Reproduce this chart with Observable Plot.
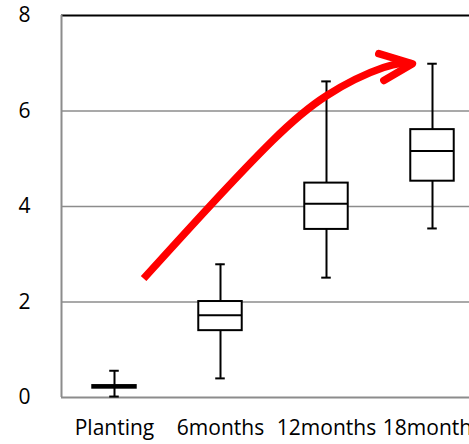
<!DOCTYPE html>
<html>
<head>
<meta charset="utf-8">
<script src="https://cdn.jsdelivr.net/npm/d3@7"></script>
<script src="https://cdn.jsdelivr.net/npm/@observablehq/plot@0.6"></script>
<style>
  html, body { margin: 0; padding: 0; background: #fff; }
</style>
</head>
<body>
<div id="chart"></div>
<script>
const categories = ["Planting", "6months", "12months", "18months"];
const whiskerLow  = [0.02, 0.40, 2.51, 3.54];
const q1          = [0.195, 1.40, 3.52, 4.53];
const median      = [0.22, 1.72, 4.06, 5.16];
const q3          = [0.25, 2.01, 4.49, 5.61];
const whiskerHigh = [0.56, 2.79, 6.62, 6.99];
const yTicks = [0, 2, 4, 6, 8];

// trend arrow annotation (data units: x = category position, y = value)
const arrowX = [1.274, 1.887, 2.491, 3.000, 3.538, 3.811];
const arrowY = [2.49, 3.98, 5.38, 6.32, 6.91, 6.99];
const headX = [3.493, 3.811, 3.541];
const headY = [7.20, 6.99, 6.64];

const boxes = categories.map((c, i) => ({
  pos: i + 1, cat: c,
  lo: whiskerLow[i], q1: q1[i], med: median[i], q3: q3[i], hi: whiskerHigh[i]
}));
const arrowPts = arrowX.map((x, i) => ({x, y: arrowY[i]}));
const headPts = headX.map((x, i) => ({x, y: headY[i]}));

const boxHalf = 0.205, capHalf = 0.045;
const font = "Open Sans";

const chart = Plot.plot({
  width: 469,
  height: 444,
  marginTop: 15,
  marginBottom: 47,
  marginLeft: 61,
  marginRight: 0,
  style: {fontFamily: font, background: "#fff", color: "#000"},
  x: {domain: [0.5, 4.5], range: [61, 485]},
  y: {domain: [0, 8], range: [397, 15]},
  marks: [
    Plot.ruleY(yTicks.filter(v => v > 0 && v < 8), {stroke: "#8c8c8c", strokeWidth: 1.5}),
    Plot.ruleY([8], {stroke: "#000", strokeWidth: 2}),
    Plot.ruleY([0], {stroke: "#8c8c8c", strokeWidth: 2}),
    Plot.ruleX([0.5], {y1: 0, y2: 8, stroke: "#8c8c8c", strokeWidth: 2}),
    Plot.ruleX(boxes, {x: "pos", y1: "lo", y2: "hi", stroke: "#000", strokeWidth: 2}),
    Plot.ruleY(boxes, {y: "hi", x1: d => d.pos - capHalf, x2: d => d.pos + capHalf, stroke: "#000", strokeWidth: 2}),
    Plot.ruleY(boxes, {y: "lo", x1: d => d.pos - capHalf, x2: d => d.pos + capHalf, stroke: "#000", strokeWidth: 2}),
    Plot.rect(boxes, {x1: d => d.pos - boxHalf, x2: d => d.pos + boxHalf, y1: "q1", y2: "q3", fill: "#fff", stroke: "#000", strokeWidth: 2}),
    Plot.ruleY(boxes, {y: "med", x1: d => d.pos - boxHalf, x2: d => d.pos + boxHalf, stroke: "#000", strokeWidth: 2}),
    Plot.line(arrowPts, {x: "x", y: "y", curve: "natural", stroke: "#ff0000", strokeWidth: 7.5, strokeLinecap: "butt"}),
    Plot.line(headPts, {x: "x", y: "y", stroke: "#ff0000", strokeWidth: 7.5, strokeLinecap: "round", strokeLinejoin: "round"}),
    Plot.axisY(yTicks, {tickSize: 0, tickPadding: 31, fontSize: 21, fill: "#000", label: null}),
    Plot.axisX([1, 2, 3, 4], {tickSize: 0, tickPadding: 23, fontSize: 21, fill: "#000", label: null, tickFormat: d => categories[d - 1]})
  ]
});
document.getElementById("chart").appendChild(chart);
</script>
</body>
</html>
